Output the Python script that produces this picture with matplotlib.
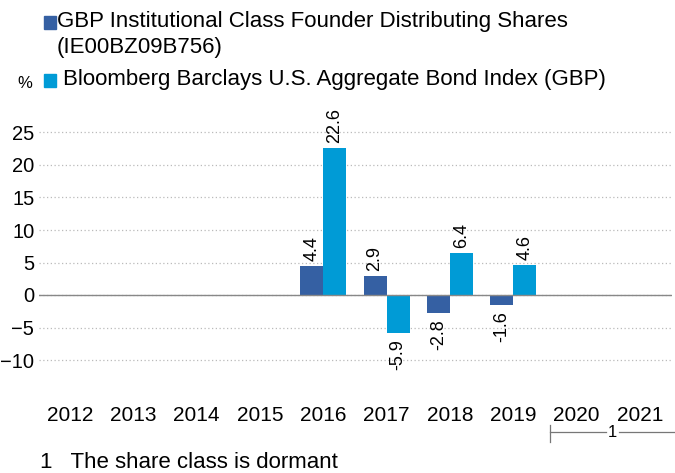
import numpy as np
import matplotlib as mpl
mpl.use('Agg')
import matplotlib.pyplot as plt
from matplotlib.patches import Rectangle
from matplotlib.lines import Line2D

plt.rcParams['font.family'] = ['Liberation Sans', 'DejaVu Sans']

years = ['2012', '2013', '2014', '2015', '2016', '2017', '2018', '2019', '2020', '2021']
fund = [np.nan, np.nan, np.nan, np.nan, 4.4, 2.9, -2.8, -1.6, np.nan, np.nan]
index = [np.nan, np.nan, np.nan, np.nan, 22.6, -5.9, 6.4, 4.6, np.nan, np.nan]
fund_name = ['GBP Institutional Class Founder Distributing Shares', '(IE00BZ09B756)']
index_name = 'Bloomberg Barclays U.S. Aggregate Bond Index (GBP)'
yticks = [-10, -5, 0, 5, 10, 15, 20, 25]

dark = '#3560a3'
light = '#009bd6'
W, H = 675, 473
fs = 16

fig = plt.figure(figsize=(W / 100, H / 100), dpi=100)
# axes placed in pixel terms
ax_l, ax_r, ax_t, ax_b = 38.5, 671.5, 113, 379.5
ax = fig.add_axes([ax_l / W, 1 - ax_b / H, (ax_r - ax_l) / W, (ax_b - ax_t) / H])

x = np.arange(len(years))
bw = 0.365
ax.bar(x - bw / 2, fund, bw, color=dark, zorder=3)
ax.bar(x + bw / 2, index, bw, color=light, zorder=3)

for xs, vals in ((x - bw / 2, fund), (x + bw / 2, index)):
    for xi, v in zip(xs, vals):
        if np.isnan(v):
            continue
        if v >= 0:
            ax.annotate(f'{v:.1f}', (xi, v), xytext=(0, 4), textcoords='offset points',
                        rotation=90, ha='center', va='bottom', fontsize=13)
        else:
            ax.annotate(f'{v:.1f}', (xi, v), xytext=(0, -4), textcoords='offset points',
                        rotation=90, ha='center', va='top', fontsize=13)

ax.set_xlim(-0.5, len(years) - 0.5)
ax.set_ylim(-13, 28)
ax.set_yticks(yticks)
ax.set_xticks(x)
ax.set_xticklabels(years)
ax.tick_params(axis='both', length=0, labelsize=15)
ax.tick_params(axis='y', labelsize=14.5, pad=3)
ax.tick_params(axis='x', pad=19)
for s in ax.spines.values():
    s.set_visible(False)
ax.grid(axis='y', linestyle=(0, (1, 2)), color='#bbbbbb', linewidth=0.9, zorder=0)
ax.axhline(0, color='#888888', linewidth=1.0, zorder=4)

# legend drawn by hand
fig.patches.append(Rectangle((44 / W, 1 - 29 / H), 12 / W, 13 / H, color=dark,
                             transform=fig.transFigure, figure=fig))
fig.text(57 / W, 1 - 22 / H, fund_name[0], fontsize=fs, va='center')
fig.text(57 / W, 1 - 48 / H, fund_name[1], fontsize=fs, va='center')
fig.patches.append(Rectangle((44 / W, 1 - 87 / H), 12 / W, 13 / H, color=light,
                             transform=fig.transFigure, figure=fig))
fig.text(63 / W, 1 - 80 / H, index_name, fontsize=fs, va='center')
fig.text(25 / W, 1 - 83 / H, '%', fontsize=12, va='center', ha='center')

# bracket for dormant years
by = 1 - 432 / H
fig.lines.append(Line2D([550 / W, 550 / W], [1 - 425 / H, 1 - 442 / H], color='#777777',
                        linewidth=0.9, transform=fig.transFigure))
fig.lines.append(Line2D([550 / W, 606 / W], [by, by], color='#777777', linewidth=0.9,
                        transform=fig.transFigure))
fig.lines.append(Line2D([619 / W, 675 / W], [by, by], color='#777777', linewidth=0.9,
                        transform=fig.transFigure))
fig.text(612.5 / W, by, '1', fontsize=12, ha='center', va='center')

fig.text(40 / W, 1 - 462 / H, '1   The share class is dormant', fontsize=fs, va='center')

plt.savefig('out.png', dpi=100)
